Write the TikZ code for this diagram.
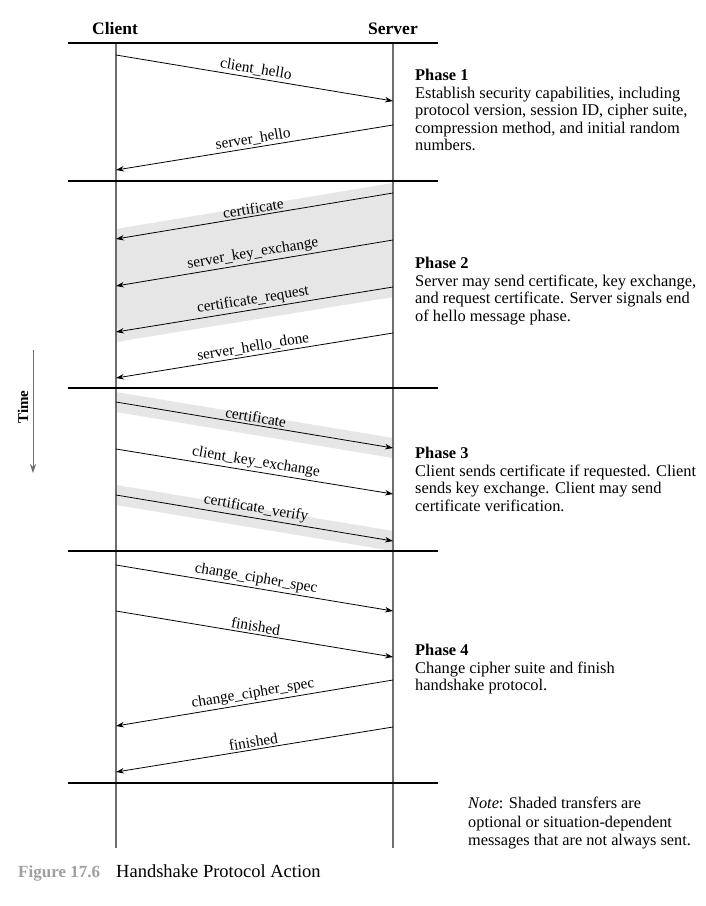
\documentclass[tikz,border=0pt]{standalone}
\usepackage{fontspec}
\setmainfont{Liberation Serif}
\usetikzlibrary{arrows.meta}
\definecolor{band}{HTML}{E6E6E6}
\definecolor{lifec}{HTML}{6E6E6E}
\begin{document}
\begin{tikzpicture}[x=1pt,y=-1pt,
  msg/.style={-{Stealth[length=8pt,width=5.5pt]}, line width=0.8pt, black},
  lbl/.style={sloped, above, inner sep=2pt, font=\fontsize{15.3}{17}\selectfont},
  sepline/.style={line width=1.6pt, black},
  life/.style={line width=1.2pt, lifec},
  shade/.style={fill=band, draw=none},
  hdr/.style={anchor=base, inner sep=0pt, font=\fontsize{17.5}{20}\selectfont\bfseries},
  phasetxt/.style={anchor=north west, inner sep=0pt, align=left, font=\fontsize{16.4}{17.6}\selectfont},
  notetxt/.style={anchor=north west, inner sep=0pt, align=left, font=\fontsize{16.3}{18.5}\selectfont},
  timearr/.style={-{Stealth[length=9pt,width=6pt]}, line width=1pt, lifec}
]
\fill[white] (0,0) rectangle (706,906);
\useasboundingbox (0,0) rectangle (706,906);

% shaded bands
\fill[shade] (116,229) -- (393,183) -- (393,297) -- (116,342) -- cycle;
\fill[shade] (116,392) -- (393,438) -- (393,458) -- (116,412) -- cycle;
\fill[shade] (116,485) -- (393,531) -- (393,551) -- (116,505) -- cycle;

% headers
\node[hdr] (client) at (115,34) {Client};
\node[hdr] (server) at (393,34) {Server};

% lifelines
\coordinate (ctop) at (116,43);
\coordinate (cbot) at (116,848);
\coordinate (stop) at (393,43);
\coordinate (sbot) at (393,848);
\draw[life] (ctop) -- (cbot);
\draw[life] (stop) -- (sbot);

% separators
\foreach \yy/\nm in {43/h0,181/h1,388/h2,551/h3,783/h4}{
  \coordinate (\nm l) at (68,\yy);
  \coordinate (\nm r) at (438,\yy);
  \draw[sepline] (\nm l) -- (\nm r);
}

% Phase 1
\coordinate (m1a) at (116,55);  \coordinate (m1b) at (393,101);
\coordinate (m2a) at (393,125); \coordinate (m2b) at (116,170);
\draw[msg] (m1a) -- node[lbl] {client\_hello} (m1b);
\draw[msg] (m2a) -- node[lbl] {server\_hello} (m2b);

% Phase 2
\coordinate (m3a) at (393,193); \coordinate (m3b) at (116,239);
\coordinate (m4a) at (393,240); \coordinate (m4b) at (116,286);
\coordinate (m5a) at (393,287); \coordinate (m5b) at (116,332);
\coordinate (m6a) at (393,333); \coordinate (m6b) at (116,378);
\draw[msg] (m3a) -- node[lbl] {certificate} (m3b);
\draw[msg] (m4a) -- node[lbl] {server\_key\_exchange} (m4b);
\draw[msg] (m5a) -- node[lbl] {certificate\_request} (m5b);
\draw[msg] (m6a) -- node[lbl] {server\_hello\_done} (m6b);

% Phase 3
\coordinate (m7a) at (116,402); \coordinate (m7b) at (393,448);
\coordinate (m8a) at (116,449); \coordinate (m8b) at (393,494);
\coordinate (m9a) at (116,495); \coordinate (m9b) at (393,541);
\draw[msg] (m7a) -- node[lbl] {certificate} (m7b);
\draw[msg] (m8a) -- node[lbl] {client\_key\_exchange} (m8b);
\draw[msg] (m9a) -- node[lbl] {certificate\_verify} (m9b);

% Phase 4
\coordinate (n1a) at (116,565); \coordinate (n1b) at (393,611);
\coordinate (n2a) at (116,611); \coordinate (n2b) at (393,657);
\coordinate (n3a) at (393,680); \coordinate (n3b) at (116,726);
\coordinate (n4a) at (393,727); \coordinate (n4b) at (116,772);
\draw[msg] (n1a) -- node[lbl] {change\_cipher\_spec} (n1b);
\draw[msg] (n2a) -- node[lbl] {finished} (n2b);
\draw[msg] (n3a) -- node[lbl] {change\_cipher\_spec} (n3b);
\draw[msg] (n4a) -- node[lbl] {finished} (n4b);

% phase descriptions
\node[phasetxt] (p1) at (415,69) {\textbf{Phase 1}\\Establish security capabilities, including\\protocol version, session ID, cipher suite,\\compression method, and initial random\\numbers.};
\node[phasetxt] (p2) at (415,257) {\textbf{Phase 2}\\Server may send certificate, key exchange,\\and request certificate. Server signals end\\of hello message phase.};
\node[phasetxt] (p3) at (415,447) {\textbf{Phase 3}\\Client sends certificate if requested. Client\\sends key exchange. Client may send\\certificate verification.};
\node[phasetxt] (p4) at (415,644) {\textbf{Phase 4}\\Change cipher suite and finish\\handshake protocol.};

% note
\node[notetxt] (note) at (468,797) {\textit{Note}: Shaded transfers are\\optional or situation-dependent\\messages that are not always sent.};

% time arrow
\coordinate (t1) at (33,350);
\coordinate (t2) at (33,473);
\draw[timearr] (t1) -- (t2);
\node[rotate=90, inner sep=0pt, font=\fontsize{15}{17}\selectfont\bfseries] (time) at (23,407) {Time};

% caption
\node[anchor=base west, inner sep=0pt, text=gray!75, font=\fontsize{17}{20}\selectfont\bfseries] (fig) at (18,877) {Figure 17.6};
\node[anchor=base west, inner sep=0pt, font=\fontsize{18.5}{20}\selectfont] (cap) at (116,877) {Handshake Protocol Action};
\end{tikzpicture}
\end{document}
